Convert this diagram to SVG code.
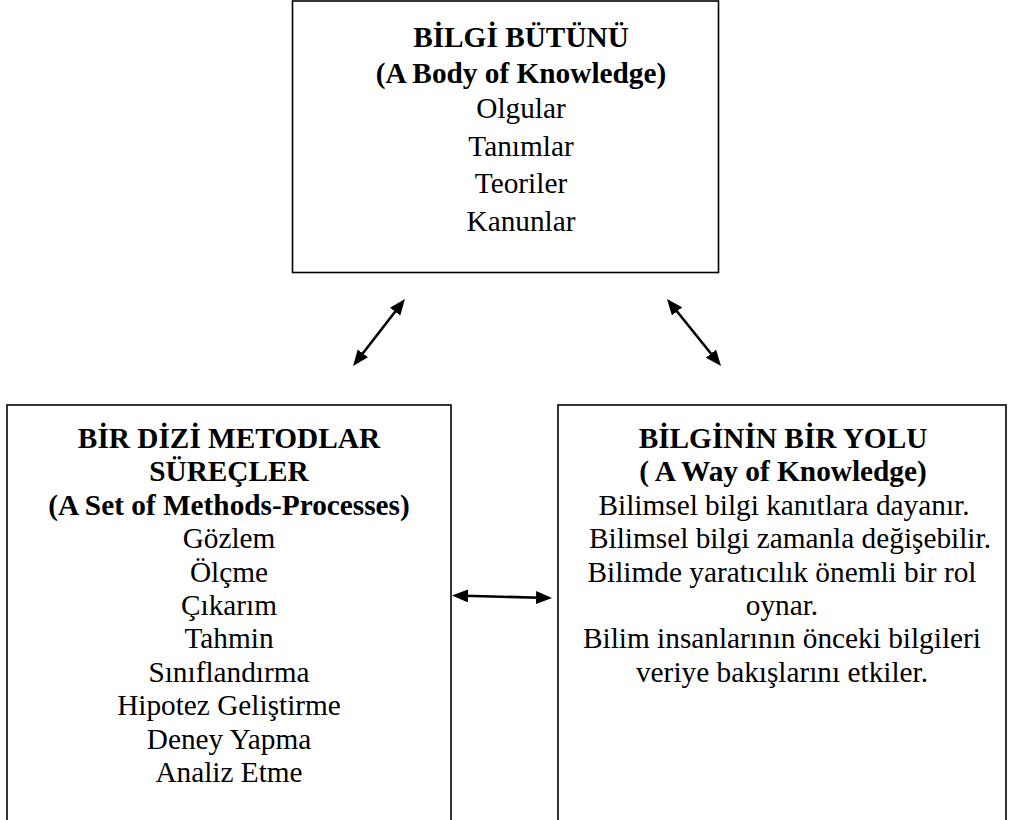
<svg xmlns="http://www.w3.org/2000/svg" width="1011" height="820" viewBox="0 0 1011 820">
<defs>
<style>
.box{fill:#fff;stroke:#000;stroke-width:1.6}
.t text{font-size:29.3px;fill:#000;text-anchor:middle}
.b{font-weight:bold}
.conn{stroke:#000;stroke-width:2.6;fill:none;marker-start:url(#ah);marker-end:url(#ah)}
</style>
<marker id="ah" markerUnits="userSpaceOnUse" markerWidth="16" markerHeight="13" refX="4" refY="6.5" orient="auto-start-reverse" viewBox="0 0 16 13">
<path d="M0,0 L16,6.5 L0,13 z" fill="#000"/>
</marker>
</defs>
<rect width="1011" height="820" fill="#fff"/>
<g id="node-bilgi-butunu" class="t" font-family="Liberation Serif, Tinos, Times New Roman, Times, DejaVu Serif, serif">
<rect class="box" x="292.5" y="1" width="426" height="271.5"/>
<text class="b" x="521" y="47">BİLGİ BÜTÜNÜ</text>
<text class="b" x="521" y="83">(A Body of Knowledge)</text>
<text x="521" y="118">Olgular</text>
<text x="521" y="155.5">Tanımlar</text>
<text x="521" y="193">Teoriler</text>
<text x="521" y="231">Kanunlar</text>
</g>
<g id="node-metodlar" class="t" font-family="Liberation Serif, Tinos, Times New Roman, Times, DejaVu Serif, serif">
<rect class="box" x="7" y="405" width="444" height="425"/>
<text class="b" x="229" y="448">BİR DİZİ METODLAR</text>
<text class="b" x="229" y="481">SÜREÇLER</text>
<text class="b" x="229" y="515">(A Set of Methods-Processes)</text>
<text x="229" y="548">Gözlem</text>
<text x="229" y="582">Ölçme</text>
<text x="229" y="615">Çıkarım</text>
<text x="229" y="648">Tahmin</text>
<text x="229" y="682">Sınıflandırma</text>
<text x="229" y="715">Hipotez Geliştirme</text>
<text x="229" y="749">Deney Yapma</text>
<text x="229" y="782">Analiz Etme</text>
</g>
<g id="node-bilginin-yolu" class="t" font-family="Liberation Serif, Tinos, Times New Roman, Times, DejaVu Serif, serif">
<rect class="box" x="558" y="405" width="448" height="425"/>
<text class="b" x="783" y="448">BİLGİNİN BİR YOLU</text>
<text class="b" x="783" y="481">( A Way of Knowledge)</text>
<text x="784" y="515">Bilimsel bilgi kanıtlara dayanır.</text>
<text x="790" y="548">Bilimsel bilgi zamanla değişebilir.</text>
<text x="782" y="582">Bilimde yaratıcılık önemli bir rol</text>
<text x="782" y="615">oynar.</text>
<text x="782" y="648">Bilim insanlarının önceki bilgileri</text>
<text x="782" y="682">veriye bakışlarını etkiler.</text>
</g>
<g id="connectors">
<line class="conn" x1="397.6" y1="308.5" x2="360.4" y2="356.5"/>
<line class="conn" x1="674.5" y1="308.3" x2="713.5" y2="356.7"/>
<line class="conn" x1="464" y1="595.8" x2="540" y2="597.7"/>
</g>
</svg>
